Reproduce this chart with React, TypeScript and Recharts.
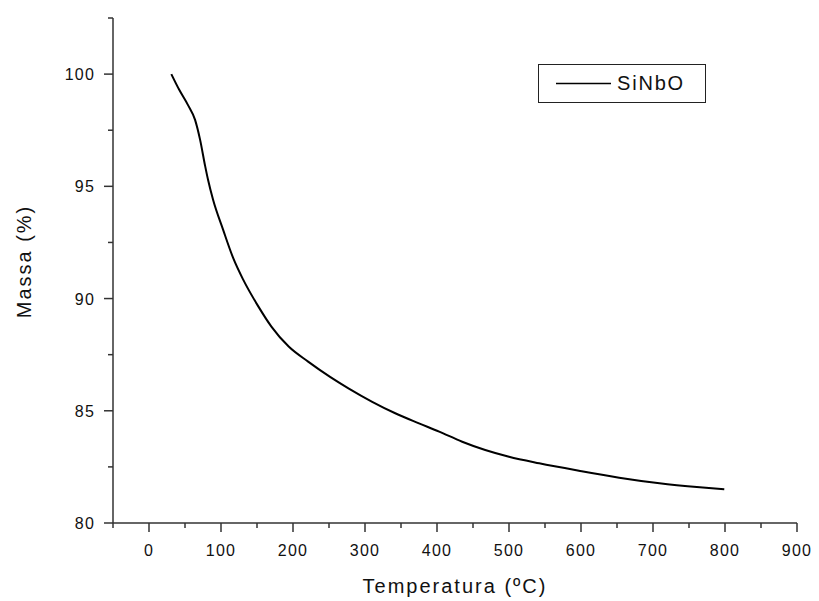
import * as React from "react"
import { LineChart, Line, XAxis, YAxis, Legend } from "recharts"

// TGA curve
const temperatura = [31, 42, 54, 64, 71, 78, 82, 89, 103, 117, 131, 152, 170, 194, 221, 252, 277, 310, 342, 375, 403, 435, 467, 500, 542, 597, 653, 709, 765, 799]
const massa = [100.0, 99.3, 98.63, 97.96, 97.07, 95.9, 95.29, 94.4, 93.06, 91.8, 90.83, 89.64, 88.75, 87.86, 87.19, 86.5, 86.0, 85.4, 84.89, 84.44, 84.07, 83.62, 83.25, 82.95, 82.66, 82.33, 82.02, 81.77, 81.59, 81.5]

const xMajor = [0, 100, 200, 300, 400, 500, 600, 700, 800, 900]
const xMinor = [-50, 50, 150, 250, 350, 450, 550, 650, 750, 850]
const yMajor = [80, 85, 90, 95, 100]
const yMinor = [82.5, 87.5, 92.5, 97.5, 102.5]

const seriesName = "SiNbO"

const data = temperatura.map((t, i) => ({ t, m: massa[i] }))

const font = "'Liberation Sans', Arial, sans-serif"
const axisColor = "#333"

function XTick(props: any) {
  const { x, y, payload } = props
  const major = xMajor.includes(payload.value)
  return (
    <g>
      <line x1={x} y1={y} x2={x} y2={y + (major ? 9 : 5)} stroke={axisColor} strokeWidth={1.5} />
      {major && (
        <text x={x} y={y + 33} textAnchor="middle" fontFamily={font} fontSize={16} letterSpacing={1.2} fill="#111">
          {payload.value}
        </text>
      )}
    </g>
  )
}

function YTick(props: any) {
  const { x, y, payload } = props
  const major = yMajor.includes(payload.value)
  return (
    <g>
      <line x1={x} y1={y} x2={x - (major ? 9 : 5)} y2={y} stroke={axisColor} strokeWidth={1.5} />
      {major && (
        <text x={x - 18} y={y + 6} textAnchor="end" fontFamily={font} fontSize={16} letterSpacing={1.2} fill="#111">
          {payload.value}
        </text>
      )}
    </g>
  )
}

function LegendBox() {
  return (
    <div style={{ width: 166, height: 37, border: "1.5px solid #222", background: "#fff", position: "relative" }}>
      <svg width={166} height={37} style={{ position: "absolute", left: 0, top: 0 }}>
        <line x1={17} y1={18.5} x2={72} y2={18.5} stroke="#000" strokeWidth={1.5} />
        <text x={78} y={25} fontFamily={font} fontSize={20} letterSpacing={1.8} fill="#111">
          {seriesName}
        </text>
      </svg>
    </div>
  )
}

export default function App() {
  return (
    <div style={{ position: "absolute", left: 0, top: 0, background: "#fff" }}>
      <LineChart width={819} height={601} data={data} margin={{ top: 18, right: 22, left: 0, bottom: 0 }}>
        <XAxis
          dataKey="t"
          type="number"
          domain={[-50, 900]}
          ticks={[...xMinor, ...xMajor].sort((a, b) => a - b)}
          interval={0}
          tickSize={0}
          tickMargin={0}
          tick={<XTick />}
          height={78}
          stroke={axisColor}
          strokeWidth={1.5}
          allowDataOverflow
          label={{
            content: (p: any) => {
              const vb = p.viewBox
              return (
                <text x={vb.x + vb.width / 2} y={vb.y + 70} textAnchor="middle" fontFamily={font} fontSize={20} letterSpacing={2} fill="#111">
                  Temperatura (ºC)
                </text>
              )
            },
          }}
        />
        <YAxis
          type="number"
          domain={[80, 102.5]}
          ticks={[...yMinor, ...yMajor].sort((a, b) => a - b)}
          interval={0}
          tickSize={0}
          tickMargin={0}
          tick={<YTick />}
          width={113}
          stroke={axisColor}
          strokeWidth={1.5}
          allowDataOverflow
          label={{
            content: (p: any) => {
              const vb = p.viewBox
              const cx = 31
              const cy = vb.y + vb.height / 2 - 9
              return (
                <text x={cx} y={cy} transform={`rotate(-90 ${cx} ${cy})`} textAnchor="middle" fontFamily={font} fontSize={20} letterSpacing={2} fill="#111">
                  Massa (%)
                </text>
              )
            },
          }}
        />
        <Legend
          layout="vertical"
          align="center"
          verticalAlign="middle"
          wrapperStyle={{ left: 538, top: 64, width: 168, height: 39 }}
          content={() => <LegendBox />}
        />
        <Line
          type="monotone"
          dataKey="m"
          name={seriesName}
          stroke="#000"
          strokeWidth={2}
          dot={false}
          activeDot={false}
          isAnimationActive={false}
        />
      </LineChart>
    </div>
  )
}
